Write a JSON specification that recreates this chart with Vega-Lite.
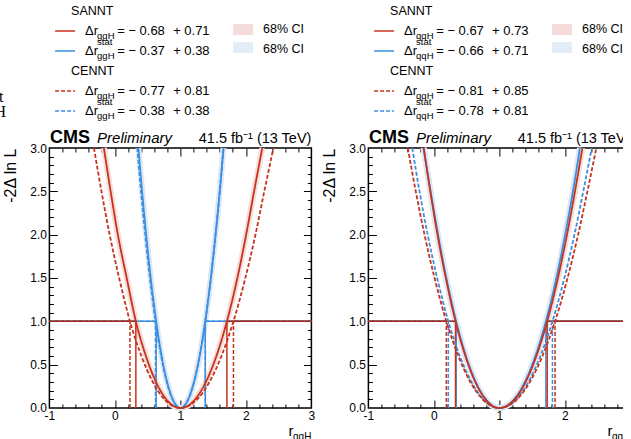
{
  "$schema": "https://vega.github.io/schema/vega-lite/v6.json",
  "padding": {"left": -5.6, "top": 1, "right": -12, "bottom": 0},
  "background": "white",
  "config": {
    "font": "Liberation Sans",
    "view": {"stroke": "black", "strokeWidth": 1.5},
    "axis": {"grid": false, "labelColor": "black", "tickColor": "black", "titleColor": "black", "labelFont": "Liberation Sans", "titleFont": "Liberation Sans"},
    "text": {"color": "black", "font": "Liberation Sans"}
  },
  "datasets": {
    "cG": [
      {"s":"CENNT stat","x":0.342,"y":3},{"s":"CENNT stat","x":0.399,"y":2.5},{"s":"CENNT stat","x":0.463,"y":2},{"s":"CENNT stat","x":0.535,"y":1.5},{"s":"CENNT stat","x":0.62,"y":1},{"s":"CENNT stat","x":0.706,"y":0.6},{"s":"CENNT stat","x":0.792,"y":0.3},{"s":"CENNT stat","x":0.88,"y":0.1},{"s":"CENNT stat","x":1,"y":0},{"s":"CENNT stat","x":1.12,"y":0.1},{"s":"CENNT stat","x":1.208,"y":0.3},{"s":"CENNT stat","x":1.294,"y":0.6},{"s":"CENNT stat","x":1.38,"y":1},{"s":"CENNT stat","x":1.465,"y":1.5},{"s":"CENNT stat","x":1.537,"y":2},{"s":"CENNT stat","x":1.601,"y":2.5},{"s":"CENNT stat","x":1.658,"y":3},
      {"s":"CENNT tot","x":-0.32,"y":3},{"s":"CENNT tot","x":-0.205,"y":2.5},{"s":"CENNT tot","x":-0.08,"y":2},{"s":"CENNT tot","x":0.065,"y":1.5},{"s":"CENNT tot","x":0.23,"y":1},{"s":"CENNT tot","x":0.404,"y":0.6},{"s":"CENNT tot","x":0.578,"y":0.3},{"s":"CENNT tot","x":0.757,"y":0.1},{"s":"CENNT tot","x":1,"y":0},{"s":"CENNT tot","x":1.256,"y":0.1},{"s":"CENNT tot","x":1.444,"y":0.3},{"s":"CENNT tot","x":1.627,"y":0.6},{"s":"CENNT tot","x":1.81,"y":1},{"s":"CENNT tot","x":1.992,"y":1.5},{"s":"CENNT tot","x":2.146,"y":2},{"s":"CENNT tot","x":2.281,"y":2.5},{"s":"CENNT tot","x":2.42,"y":3},
      {"s":"SANNT stat","x":0.359,"y":3},{"s":"SANNT stat","x":0.415,"y":2.5},{"s":"SANNT stat","x":0.477,"y":2},{"s":"SANNT stat","x":0.547,"y":1.5},{"s":"SANNT stat","x":0.63,"y":1},{"s":"SANNT stat","x":0.713,"y":0.6},{"s":"SANNT stat","x":0.797,"y":0.3},{"s":"SANNT stat","x":0.883,"y":0.1},{"s":"SANNT stat","x":1,"y":0},{"s":"SANNT stat","x":1.12,"y":0.1},{"s":"SANNT stat","x":1.208,"y":0.3},{"s":"SANNT stat","x":1.294,"y":0.6},{"s":"SANNT stat","x":1.38,"y":1},{"s":"SANNT stat","x":1.465,"y":1.5},{"s":"SANNT stat","x":1.537,"y":2},{"s":"SANNT stat","x":1.601,"y":2.5},{"s":"SANNT stat","x":1.658,"y":3},
      {"s":"SANNT tot","x":-0.168,"y":3},{"s":"SANNT tot","x":-0.065,"y":2.5},{"s":"SANNT tot","x":0.045,"y":2},{"s":"SANNT tot","x":0.18,"y":1.5},{"s":"SANNT tot","x":0.32,"y":1},{"s":"SANNT tot","x":0.473,"y":0.6},{"s":"SANNT tot","x":0.628,"y":0.3},{"s":"SANNT tot","x":0.785,"y":0.1},{"s":"SANNT tot","x":1,"y":0},{"s":"SANNT tot","x":1.225,"y":0.1},{"s":"SANNT tot","x":1.389,"y":0.3},{"s":"SANNT tot","x":1.55,"y":0.6},{"s":"SANNT tot","x":1.71,"y":1},{"s":"SANNT tot","x":1.87,"y":1.5},{"s":"SANNT tot","x":2.004,"y":2},{"s":"SANNT tot","x":2.125,"y":2.5},{"s":"SANNT tot","x":2.25,"y":3}
    ],
    "cQ": [
      {"s":"CENNT stat","x":-0.33,"y":3},{"s":"CENNT stat","x":-0.22,"y":2.5},{"s":"CENNT stat","x":-0.095,"y":2},{"s":"CENNT stat","x":0.05,"y":1.5},{"s":"CENNT stat","x":0.22,"y":1},{"s":"CENNT stat","x":0.396,"y":0.6},{"s":"CENNT stat","x":0.573,"y":0.3},{"s":"CENNT stat","x":0.753,"y":0.1},{"s":"CENNT stat","x":1,"y":0},{"s":"CENNT stat","x":1.256,"y":0.1},{"s":"CENNT stat","x":1.444,"y":0.3},{"s":"CENNT stat","x":1.627,"y":0.6},{"s":"CENNT stat","x":1.81,"y":1},{"s":"CENNT stat","x":1.992,"y":1.5},{"s":"CENNT stat","x":2.146,"y":2},{"s":"CENNT stat","x":2.281,"y":2.5},{"s":"CENNT stat","x":2.41,"y":3},
      {"s":"CENNT tot","x":-0.398,"y":3},{"s":"CENNT tot","x":-0.277,"y":2.5},{"s":"CENNT tot","x":-0.143,"y":2},{"s":"CENNT tot","x":0.01,"y":1.5},{"s":"CENNT tot","x":0.19,"y":1},{"s":"CENNT tot","x":0.373,"y":0.6},{"s":"CENNT tot","x":0.556,"y":0.3},{"s":"CENNT tot","x":0.744,"y":0.1},{"s":"CENNT tot","x":1,"y":0},{"s":"CENNT tot","x":1.269,"y":0.1},{"s":"CENNT tot","x":1.466,"y":0.3},{"s":"CENNT tot","x":1.658,"y":0.6},{"s":"CENNT tot","x":1.85,"y":1},{"s":"CENNT tot","x":2.041,"y":1.5},{"s":"CENNT tot","x":2.202,"y":2},{"s":"CENNT tot","x":2.344,"y":2.5},{"s":"CENNT tot","x":2.48,"y":3},
      {"s":"SANNT stat","x":-0.16,"y":3},{"s":"SANNT stat","x":-0.05,"y":2.5},{"s":"SANNT stat","x":0.063,"y":2},{"s":"SANNT stat","x":0.19,"y":1.5},{"s":"SANNT stat","x":0.34,"y":1},{"s":"SANNT stat","x":0.489,"y":0.6},{"s":"SANNT stat","x":0.639,"y":0.3},{"s":"SANNT stat","x":0.791,"y":0.1},{"s":"SANNT stat","x":1,"y":0},{"s":"SANNT stat","x":1.225,"y":0.1},{"s":"SANNT stat","x":1.389,"y":0.3},{"s":"SANNT stat","x":1.55,"y":0.6},{"s":"SANNT stat","x":1.71,"y":1},{"s":"SANNT stat","x":1.87,"y":1.5},{"s":"SANNT stat","x":2.004,"y":2},{"s":"SANNT stat","x":2.123,"y":2.5},{"s":"SANNT stat","x":2.23,"y":3},
      {"s":"SANNT tot","x":-0.155,"y":3},{"s":"SANNT tot","x":-0.055,"y":2.5},{"s":"SANNT tot","x":0.055,"y":2},{"s":"SANNT tot","x":0.182,"y":1.5},{"s":"SANNT tot","x":0.33,"y":1},{"s":"SANNT tot","x":0.481,"y":0.6},{"s":"SANNT tot","x":0.633,"y":0.3},{"s":"SANNT tot","x":0.788,"y":0.1},{"s":"SANNT tot","x":1,"y":0},{"s":"SANNT tot","x":1.231,"y":0.1},{"s":"SANNT tot","x":1.4,"y":0.3},{"s":"SANNT tot","x":1.565,"y":0.6},{"s":"SANNT tot","x":1.73,"y":1},{"s":"SANNT tot","x":1.894,"y":1.5},{"s":"SANNT tot","x":2.032,"y":2},{"s":"SANNT tot","x":2.154,"y":2.5},{"s":"SANNT tot","x":2.268,"y":3}
    ],
    "iG": [
      {"s":"SANNT stat","lo":0.63,"hi":1.38},{"s":"CENNT stat","lo":0.62,"hi":1.38},
      {"s":"CENNT tot","lo":0.23,"hi":1.81},{"s":"SANNT tot","lo":0.32,"hi":1.71}
    ],
    "iQ": [
      {"s":"SANNT stat","lo":0.34,"hi":1.71},{"s":"CENNT stat","lo":0.22,"hi":1.81},
      {"s":"CENNT tot","lo":0.19,"hi":1.85},{"s":"SANNT tot","lo":0.33,"hi":1.73}
    ],
    "lG": [
      {"s":"SANNT","kind":"head"},
      {"s":"SANNT tot","kind":"item","sub":"ggH","sup":"","lo":"= − 0.68","hi":"+ 0.71","ci":"68% CI"},
      {"s":"SANNT stat","kind":"item","sub":"ggH","sup":"stat","lo":"= − 0.37","hi":"+ 0.38","ci":"68% CI"},
      {"s":"CENNT","kind":"head"},
      {"s":"CENNT tot","kind":"item","sub":"ggH","sup":"","lo":"= − 0.77","hi":"+ 0.81"},
      {"s":"CENNT stat","kind":"item","sub":"ggH","sup":"stat","lo":"= − 0.38","hi":"+ 0.38"},
      {"s":"CENNT tot","kind":"frag","t":"t"},
      {"s":"CENNT stat","kind":"frag","t":"H"}
    ],
    "lQ": [
      {"s":"SANNT","kind":"head"},
      {"s":"SANNT tot","kind":"item","sub":"qqH","sup":"","lo":"= − 0.67","hi":"+ 0.73","ci":"68% CI"},
      {"s":"SANNT stat","kind":"item","sub":"qqH","sup":"stat","lo":"= − 0.66","hi":"+ 0.71","ci":"68% CI"},
      {"s":"CENNT","kind":"head"},
      {"s":"CENNT tot","kind":"item","sub":"qqH","sup":"","lo":"= − 0.81","hi":"+ 0.85"},
      {"s":"CENNT stat","kind":"item","sub":"qqH","sup":"stat","lo":"= − 0.78","hi":"+ 0.81"}
    ]
  },
  "hconcat": [
    {
      "vconcat": [
        {
          "width": 262, "height": 120,
          "view": {"stroke": null},
          "data": {"name": "lG"},
          "layer": [
            {"transform": [{"filter": "datum.kind == 'head'"}], "mark": {"type": "text", "align": "left", "baseline": "middle", "fontSize": 12.5},
             "encoding": {"x": {"datum": -0.669, "type": "quantitative", "scale": {"domain": [-1, 3], "nice": false, "zero": false}, "axis": null},
               "y": {"field": "s", "type": "nominal", "scale": {"type": "point", "domain": ["SANNT","SANNT tot","SANNT stat","CENNT","CENNT tot","CENNT stat"], "padding": 0.5}, "axis": null},
               "text": {"field": "s"}}},
            {"transform": [{"filter": "datum.kind == 'item'"}], "mark": {"type": "rule", "strokeWidth": 1.5},
             "encoding": {"x": {"datum": -0.913, "type": "quantitative", "axis": null}, "x2": {"datum": -0.608},
              "y": {"field": "s", "type": "nominal", "axis": null},
              "color": {"field": "s", "type": "nominal", "scale": {"domain": ["SANNT tot","SANNT stat","CENNT tot","CENNT stat"], "range": ["#c8321c","#3c8ee0","#c8321c","#3c8ee0"]}, "legend": null},
              "strokeDash": {"field": "s", "type": "nominal", "scale": {"domain": ["SANNT tot","SANNT stat","CENNT tot","CENNT stat"], "range": [[1,0],[1,0],[4,2],[4,2]]}, "legend": null}}},
            {"transform": [{"filter": "datum.kind == 'item'"}], "mark": {"type": "text", "align": "left", "baseline": "middle", "fontSize": 13},
             "encoding": {"x": {"datum": -0.455, "type": "quantitative", "axis": null}, "y": {"field": "s", "type": "nominal", "axis": null}, "text": {"value": "Δr"}}},
            {"transform": [{"filter": "datum.kind == 'item'"}], "mark": {"type": "text", "align": "left", "baseline": "middle", "fontSize": 9.5, "dy": 5},
             "encoding": {"x": {"datum": -0.272, "type": "quantitative", "axis": null}, "y": {"field": "s", "type": "nominal", "axis": null}, "text": {"field": "sub"}}},
            {"transform": [{"filter": "datum.kind == 'item' && datum.sup != ''"}], "mark": {"type": "text", "align": "left", "baseline": "middle", "fontSize": 9.5, "dy": -9},
             "encoding": {"x": {"datum": -0.272, "type": "quantitative", "axis": null}, "y": {"field": "s", "type": "nominal", "axis": null}, "text": {"field": "sup"}}},
            {"transform": [{"filter": "datum.kind == 'item'"}], "mark": {"type": "text", "align": "left", "baseline": "middle", "fontSize": 13},
             "encoding": {"x": {"datum": 0.035, "type": "quantitative", "axis": null}, "y": {"field": "s", "type": "nominal", "axis": null}, "text": {"field": "lo"}}},
            {"transform": [{"filter": "datum.kind == 'item'"}], "mark": {"type": "text", "align": "left", "baseline": "middle", "fontSize": 13},
             "encoding": {"x": {"datum": 0.889, "type": "quantitative", "axis": null}, "y": {"field": "s", "type": "nominal", "axis": null}, "text": {"field": "hi"}}},
            {"transform": [{"filter": "datum.kind == 'item' && datum.s == 'SANNT tot'"}], "mark": {"type": "rule", "strokeWidth": 11, "strokeCap": "butt", "color": "#f3dcdb", "yOffset": -1.5},
             "encoding": {"x": {"datum": 1.805, "type": "quantitative", "axis": null}, "x2": {"datum": 2.11}, "y": {"field": "s", "type": "nominal", "axis": null}}},
            {"transform": [{"filter": "datum.kind == 'item' && datum.s == 'SANNT stat'"}], "mark": {"type": "rule", "strokeWidth": 11, "strokeCap": "butt", "color": "#e3edf8", "yOffset": -3.5},
             "encoding": {"x": {"datum": 1.805, "type": "quantitative", "axis": null}, "x2": {"datum": 2.11}, "y": {"field": "s", "type": "nominal", "axis": null}}},
            {"transform": [{"filter": "datum.kind == 'item' && isValid(datum.ci)"}], "mark": {"type": "text", "align": "left", "baseline": "middle", "fontSize": 12.5, "dy": -2.5},
             "encoding": {"x": {"datum": 2.263, "type": "quantitative", "axis": null}, "y": {"field": "s", "type": "nominal", "axis": null}, "text": {"field": "ci"}}},
            {"transform": [{"filter": "datum.kind == 'frag' && datum.t == 't'"}], "mark": {"type": "text", "align": "right", "baseline": "middle", "fontSize": 16, "font": "Liberation Serif", "dy": 6},
             "encoding": {"x": {"datum": -1.701, "type": "quantitative", "axis": null}, "y": {"field": "s", "type": "nominal", "axis": null}, "text": {"field": "t"}}},
            {"transform": [{"filter": "datum.kind == 'frag' && datum.t == 'H'"}], "mark": {"type": "text", "align": "right", "baseline": "middle", "fontSize": 16, "font": "Liberation Serif", "dy": 1},
             "encoding": {"x": {"datum": -1.661, "type": "quantitative", "axis": null}, "y": {"field": "s", "type": "nominal", "axis": null}, "text": {"field": "t"}}}
          ]
        },
        {
          "width": 262, "height": 260,
          "resolve": {"axis": {"x": "independent", "y": "independent"}},
          "layer": [
            {"data": {"name": "cG"}, "transform": [{"filter": "datum.s == 'SANNT tot'"}],
             "mark": {"type": "line", "interpolate": "monotone", "strokeWidth": 6, "color": "#f6dedb"},
             "encoding": {
               "x": {"field": "x", "type": "quantitative", "scale": {"domain": [-1, 3], "nice": false, "zero": false},
                     "axis": {"orient": "bottom", "values": [-1,0,1,2,3], "labelExpr": "'' + datum.value", "ticks": false, "domain": false, "labelFontSize": 12, "labelPadding": 3, "labelFlush": false, "labelOverlap": false, "title": null}},
               "y": {"field": "y", "type": "quantitative", "scale": {"domain": [0, 3], "nice": false, "zero": false},
                     "axis": {"orient": "left", "values": [0,0.5,1,1.5,2,2.5,3], "format": ".1f", "ticks": false, "domain": false, "labelFontSize": 12, "labelPadding": 3, "labelFlush": false, "labelOverlap": false, "title": "-2Δ ln L", "titleFontSize": 16, "titleFontWeight": "normal", "titleAnchor": "end", "titlePadding": 11}}}},
            {"data": {"name": "cG"}, "transform": [{"filter": "datum.s == 'SANNT stat'"}],
             "mark": {"type": "line", "interpolate": "monotone", "strokeWidth": 6, "color": "#dce8f6"},
             "encoding": {
               "x": {"field": "x", "type": "quantitative", "axis": {"orient": "bottom", "values": [0,1,2], "labels": false, "domain": false, "tickSize": -8, "title": null}},
               "y": {"field": "y", "type": "quantitative", "axis": {"orient": "left", "values": [0.5,1,1.5,2,2.5], "labels": false, "domain": false, "tickSize": -8, "title": null}}}},
            {"data": {"name": "cG"},
             "mark": {"type": "point", "opacity": 0},
             "encoding": {
               "x": {"field": "x", "type": "quantitative", "axis": {"orient": "bottom", "values": [-0.8,-0.6,-0.4,-0.2,0.2,0.4,0.6,0.8,1.2,1.4,1.6,1.8,2.2,2.4,2.6,2.8], "labels": false, "domain": false, "tickSize": -4, "title": null}},
               "y": {"field": "y", "type": "quantitative", "axis": {"orient": "left", "values": [0.1,0.2,0.3,0.4,0.6,0.7,0.8,0.9,1.1,1.2,1.3,1.4,1.6,1.7,1.8,1.9,2.1,2.2,2.3,2.4,2.6,2.7,2.8,2.9], "labels": false, "domain": false, "tickSize": -4, "title": null}}}},
            {"data": {"name": "cG"},
             "mark": {"type": "point", "opacity": 0},
             "encoding": {
               "x": {"field": "x", "type": "quantitative", "axis": {"orient": "top", "values": [0,1,2], "labels": false, "domain": false, "tickSize": -8, "title": null}},
               "y": {"field": "y", "type": "quantitative", "axis": {"orient": "right", "values": [0.5,1,1.5,2,2.5], "labels": false, "domain": false, "tickSize": -8, "title": null}}}},
            {"data": {"name": "cG"},
             "mark": {"type": "point", "opacity": 0},
             "encoding": {
               "x": {"field": "x", "type": "quantitative", "axis": {"orient": "top", "values": [-0.8,-0.6,-0.4,-0.2,0.2,0.4,0.6,0.8,1.2,1.4,1.6,1.8,2.2,2.4,2.6,2.8], "labels": false, "domain": false, "tickSize": -4, "title": null}},
               "y": {"field": "y", "type": "quantitative", "axis": {"orient": "right", "values": [0.1,0.2,0.3,0.4,0.6,0.7,0.8,0.9,1.1,1.2,1.3,1.4,1.6,1.7,1.8,1.9,2.1,2.2,2.3,2.4,2.6,2.7,2.8,2.9], "labels": false, "domain": false, "tickSize": -4, "title": null}}}},
            {"data": {"name": "iG"},
             "mark": {"type": "rule", "strokeWidth": 1.5},
             "encoding": {
               "x": {"field": "lo", "type": "quantitative", "axis": null},
               "x2": {"datum": -1},
               "y": {"datum": 1, "type": "quantitative", "axis": null},
               "stroke": {"field": "s", "type": "nominal", "scale": {"domain": ["SANNT tot","SANNT stat","CENNT tot","CENNT stat"], "range": ["#a52a1c","#3c8ee0","#a52a1c","#3c8ee0"]}, "legend": null},
               "strokeDash": {"field": "s", "type": "nominal", "legend": null}}},
            {"data": {"name": "iG"},
             "mark": {"type": "rule", "strokeWidth": 1.5},
             "encoding": {
               "x": {"field": "hi", "type": "quantitative", "axis": null},
               "x2": {"datum": 3},
               "y": {"datum": 1, "type": "quantitative", "axis": null},
               "stroke": {"field": "s", "type": "nominal", "legend": null},
               "strokeDash": {"field": "s", "type": "nominal", "legend": null}}},
            {"data": {"name": "iG"},
             "mark": {"type": "rule", "strokeWidth": 1.5},
             "encoding": {
               "x": {"field": "lo", "type": "quantitative", "axis": null},
               "y": {"datum": 0, "type": "quantitative", "axis": null},
               "y2": {"datum": 1},
               "color": {"field": "s", "type": "nominal", "legend": null},
               "strokeDash": {"field": "s", "type": "nominal", "legend": null}}},
            {"data": {"name": "iG"},
             "mark": {"type": "rule", "strokeWidth": 1.5},
             "encoding": {
               "x": {"field": "hi", "type": "quantitative", "axis": null},
               "y": {"datum": 0, "type": "quantitative", "axis": null},
               "y2": {"datum": 1},
               "color": {"field": "s", "type": "nominal", "legend": null},
               "strokeDash": {"field": "s", "type": "nominal", "legend": null}}},
            {"data": {"name": "cG"},
             "mark": {"type": "line", "interpolate": "monotone", "strokeWidth": 1.8},
             "encoding": {
               "x": {"field": "x", "type": "quantitative", "axis": null},
               "y": {"field": "y", "type": "quantitative", "axis": null},
               "color": {"field": "s", "type": "nominal", "legend": null},
               "strokeDash": {"field": "s", "type": "nominal", "legend": null}}},
            {"data": {"values": [{"t": "CMS"}]},
             "mark": {"type": "text", "align": "left", "baseline": "alphabetic", "fontSize": 18, "fontWeight": "bold"},
             "encoding": {"x": {"datum": -0.99, "type": "quantitative", "axis": null}, "y": {"datum": 3.058, "type": "quantitative", "axis": null}, "text": {"field": "t"}}},
            {"data": {"values": [{"t": "Preliminary"}]},
             "mark": {"type": "text", "align": "left", "baseline": "alphabetic", "fontSize": 15, "fontStyle": "italic"},
             "encoding": {"x": {"datum": -0.272, "type": "quantitative", "axis": null}, "y": {"datum": 3.058, "type": "quantitative", "axis": null}, "text": {"field": "t"}}},
            {"data": {"values": [{"t": "41.5 fb⁻¹ (13 TeV)"}]},
             "mark": {"type": "text", "align": "right", "baseline": "alphabetic", "fontSize": 14.5},
             "encoding": {"x": {"datum": 3, "type": "quantitative", "axis": null}, "y": {"datum": 3.058, "type": "quantitative", "axis": null}, "text": {"field": "t"}}},
            {"data": {"values": [{"t": "r"}]},
             "mark": {"type": "text", "align": "right", "baseline": "alphabetic", "fontSize": 15, "dx": -18},
             "encoding": {"x": {"datum": 3, "type": "quantitative", "axis": null}, "y": {"datum": -0.323, "type": "quantitative", "axis": null}, "text": {"field": "t"}}},
            {"data": {"values": [{"t": "ggH"}]},
             "mark": {"type": "text", "align": "right", "baseline": "alphabetic", "fontSize": 10},
             "encoding": {"x": {"datum": 3, "type": "quantitative", "axis": null}, "y": {"datum": -0.369, "type": "quantitative", "axis": null}, "text": {"field": "t"}}}
          ]
        }
      ],
      "spacing": 27,
      "bounds": "flush"
    },
    {
      "vconcat": [
        {
          "width": 262, "height": 120,
          "view": {"stroke": null},
          "data": {"name": "lQ"},
          "layer": [
            {"transform": [{"filter": "datum.kind == 'head'"}], "mark": {"type": "text", "align": "left", "baseline": "middle", "fontSize": 12.5},
             "encoding": {"x": {"datum": -0.669, "type": "quantitative", "scale": {"domain": [-1, 3], "nice": false, "zero": false}, "axis": null},
               "y": {"field": "s", "type": "nominal", "scale": {"type": "point", "domain": ["SANNT","SANNT tot","SANNT stat","CENNT","CENNT tot","CENNT stat"], "padding": 0.5}, "axis": null},
               "text": {"field": "s"}}},
            {"transform": [{"filter": "datum.kind == 'item'"}], "mark": {"type": "rule", "strokeWidth": 1.5},
             "encoding": {"x": {"datum": -0.913, "type": "quantitative", "axis": null}, "x2": {"datum": -0.608},
              "y": {"field": "s", "type": "nominal", "axis": null},
              "color": {"field": "s", "type": "nominal", "scale": {"domain": ["SANNT tot","SANNT stat","CENNT tot","CENNT stat"], "range": ["#c8321c","#3c8ee0","#c8321c","#3c8ee0"]}, "legend": null},
              "strokeDash": {"field": "s", "type": "nominal", "scale": {"domain": ["SANNT tot","SANNT stat","CENNT tot","CENNT stat"], "range": [[1,0],[1,0],[4,2],[4,2]]}, "legend": null}}},
            {"transform": [{"filter": "datum.kind == 'item'"}], "mark": {"type": "text", "align": "left", "baseline": "middle", "fontSize": 13},
             "encoding": {"x": {"datum": -0.455, "type": "quantitative", "axis": null}, "y": {"field": "s", "type": "nominal", "axis": null}, "text": {"value": "Δr"}}},
            {"transform": [{"filter": "datum.kind == 'item'"}], "mark": {"type": "text", "align": "left", "baseline": "middle", "fontSize": 9.5, "dy": 5},
             "encoding": {"x": {"datum": -0.272, "type": "quantitative", "axis": null}, "y": {"field": "s", "type": "nominal", "axis": null}, "text": {"field": "sub"}}},
            {"transform": [{"filter": "datum.kind == 'item' && datum.sup != ''"}], "mark": {"type": "text", "align": "left", "baseline": "middle", "fontSize": 9.5, "dy": -9},
             "encoding": {"x": {"datum": -0.272, "type": "quantitative", "axis": null}, "y": {"field": "s", "type": "nominal", "axis": null}, "text": {"field": "sup"}}},
            {"transform": [{"filter": "datum.kind == 'item'"}], "mark": {"type": "text", "align": "left", "baseline": "middle", "fontSize": 13},
             "encoding": {"x": {"datum": 0.035, "type": "quantitative", "axis": null}, "y": {"field": "s", "type": "nominal", "axis": null}, "text": {"field": "lo"}}},
            {"transform": [{"filter": "datum.kind == 'item'"}], "mark": {"type": "text", "align": "left", "baseline": "middle", "fontSize": 13},
             "encoding": {"x": {"datum": 0.889, "type": "quantitative", "axis": null}, "y": {"field": "s", "type": "nominal", "axis": null}, "text": {"field": "hi"}}},
            {"transform": [{"filter": "datum.kind == 'item' && datum.s == 'SANNT tot'"}], "mark": {"type": "rule", "strokeWidth": 11, "strokeCap": "butt", "color": "#f3dcdb", "yOffset": -1.5},
             "encoding": {"x": {"datum": 1.805, "type": "quantitative", "axis": null}, "x2": {"datum": 2.11}, "y": {"field": "s", "type": "nominal", "axis": null}}},
            {"transform": [{"filter": "datum.kind == 'item' && datum.s == 'SANNT stat'"}], "mark": {"type": "rule", "strokeWidth": 11, "strokeCap": "butt", "color": "#e3edf8", "yOffset": -3.5},
             "encoding": {"x": {"datum": 1.805, "type": "quantitative", "axis": null}, "x2": {"datum": 2.11}, "y": {"field": "s", "type": "nominal", "axis": null}}},
            {"transform": [{"filter": "datum.kind == 'item' && isValid(datum.ci)"}], "mark": {"type": "text", "align": "left", "baseline": "middle", "fontSize": 12.5, "dy": -2.5},
             "encoding": {"x": {"datum": 2.263, "type": "quantitative", "axis": null}, "y": {"field": "s", "type": "nominal", "axis": null}, "text": {"field": "ci"}}}
          ]
        },
        {
          "width": 262, "height": 260,
          "resolve": {"axis": {"x": "independent", "y": "independent"}},
          "layer": [
            {"data": {"name": "cQ"}, "transform": [{"filter": "datum.s == 'SANNT tot'"}],
             "mark": {"type": "line", "interpolate": "monotone", "strokeWidth": 6, "color": "#f6dedb"},
             "encoding": {
               "x": {"field": "x", "type": "quantitative", "scale": {"domain": [-1, 3], "nice": false, "zero": false},
                     "axis": {"orient": "bottom", "values": [-1,0,1,2,3], "labelExpr": "'' + datum.value", "ticks": false, "domain": false, "labelFontSize": 12, "labelPadding": 3, "labelFlush": false, "labelOverlap": false, "title": null}},
               "y": {"field": "y", "type": "quantitative", "scale": {"domain": [0, 3], "nice": false, "zero": false},
                     "axis": {"orient": "left", "values": [0,0.5,1,1.5,2,2.5,3], "format": ".1f", "ticks": false, "domain": false, "labelFontSize": 12, "labelPadding": 3, "labelFlush": false, "labelOverlap": false, "title": "-2Δ ln L", "titleFontSize": 16, "titleFontWeight": "normal", "titleAnchor": "end", "titlePadding": 11}}}},
            {"data": {"name": "cQ"}, "transform": [{"filter": "datum.s == 'SANNT stat'"}],
             "mark": {"type": "line", "interpolate": "monotone", "strokeWidth": 6, "color": "#dce8f6"},
             "encoding": {
               "x": {"field": "x", "type": "quantitative", "axis": {"orient": "bottom", "values": [0,1,2], "labels": false, "domain": false, "tickSize": -8, "title": null}},
               "y": {"field": "y", "type": "quantitative", "axis": {"orient": "left", "values": [0.5,1,1.5,2,2.5], "labels": false, "domain": false, "tickSize": -8, "title": null}}}},
            {"data": {"name": "cQ"},
             "mark": {"type": "point", "opacity": 0},
             "encoding": {
               "x": {"field": "x", "type": "quantitative", "axis": {"orient": "bottom", "values": [-0.8,-0.6,-0.4,-0.2,0.2,0.4,0.6,0.8,1.2,1.4,1.6,1.8,2.2,2.4,2.6,2.8], "labels": false, "domain": false, "tickSize": -4, "title": null}},
               "y": {"field": "y", "type": "quantitative", "axis": {"orient": "left", "values": [0.1,0.2,0.3,0.4,0.6,0.7,0.8,0.9,1.1,1.2,1.3,1.4,1.6,1.7,1.8,1.9,2.1,2.2,2.3,2.4,2.6,2.7,2.8,2.9], "labels": false, "domain": false, "tickSize": -4, "title": null}}}},
            {"data": {"name": "cQ"},
             "mark": {"type": "point", "opacity": 0},
             "encoding": {
               "x": {"field": "x", "type": "quantitative", "axis": {"orient": "top", "values": [0,1,2], "labels": false, "domain": false, "tickSize": -8, "title": null}},
               "y": {"field": "y", "type": "quantitative", "axis": {"orient": "right", "values": [0.5,1,1.5,2,2.5], "labels": false, "domain": false, "tickSize": -8, "title": null}}}},
            {"data": {"name": "cQ"},
             "mark": {"type": "point", "opacity": 0},
             "encoding": {
               "x": {"field": "x", "type": "quantitative", "axis": {"orient": "top", "values": [-0.8,-0.6,-0.4,-0.2,0.2,0.4,0.6,0.8,1.2,1.4,1.6,1.8,2.2,2.4,2.6,2.8], "labels": false, "domain": false, "tickSize": -4, "title": null}},
               "y": {"field": "y", "type": "quantitative", "axis": {"orient": "right", "values": [0.1,0.2,0.3,0.4,0.6,0.7,0.8,0.9,1.1,1.2,1.3,1.4,1.6,1.7,1.8,1.9,2.1,2.2,2.3,2.4,2.6,2.7,2.8,2.9], "labels": false, "domain": false, "tickSize": -4, "title": null}}}},
            {"data": {"name": "iQ"},
             "mark": {"type": "rule", "strokeWidth": 1.5},
             "encoding": {
               "x": {"field": "lo", "type": "quantitative", "axis": null},
               "x2": {"datum": -1},
               "y": {"datum": 1, "type": "quantitative", "axis": null},
               "stroke": {"field": "s", "type": "nominal", "scale": {"domain": ["SANNT tot","SANNT stat","CENNT tot","CENNT stat"], "range": ["#a52a1c","#3c8ee0","#a52a1c","#3c8ee0"]}, "legend": null},
               "strokeDash": {"field": "s", "type": "nominal", "legend": null}}},
            {"data": {"name": "iQ"},
             "mark": {"type": "rule", "strokeWidth": 1.5},
             "encoding": {
               "x": {"field": "hi", "type": "quantitative", "axis": null},
               "x2": {"datum": 3},
               "y": {"datum": 1, "type": "quantitative", "axis": null},
               "stroke": {"field": "s", "type": "nominal", "legend": null},
               "strokeDash": {"field": "s", "type": "nominal", "legend": null}}},
            {"data": {"name": "iQ"},
             "mark": {"type": "rule", "strokeWidth": 1.5},
             "encoding": {
               "x": {"field": "lo", "type": "quantitative", "axis": null},
               "y": {"datum": 0, "type": "quantitative", "axis": null},
               "y2": {"datum": 1},
               "color": {"field": "s", "type": "nominal", "legend": null},
               "strokeDash": {"field": "s", "type": "nominal", "legend": null}}},
            {"data": {"name": "iQ"},
             "mark": {"type": "rule", "strokeWidth": 1.5},
             "encoding": {
               "x": {"field": "hi", "type": "quantitative", "axis": null},
               "y": {"datum": 0, "type": "quantitative", "axis": null},
               "y2": {"datum": 1},
               "color": {"field": "s", "type": "nominal", "legend": null},
               "strokeDash": {"field": "s", "type": "nominal", "legend": null}}},
            {"data": {"name": "cQ"},
             "mark": {"type": "line", "interpolate": "monotone", "strokeWidth": 1.8},
             "encoding": {
               "x": {"field": "x", "type": "quantitative", "axis": null},
               "y": {"field": "y", "type": "quantitative", "axis": null},
               "color": {"field": "s", "type": "nominal", "legend": null},
               "strokeDash": {"field": "s", "type": "nominal", "legend": null}}},
            {"data": {"values": [{"t": "CMS"}]},
             "mark": {"type": "text", "align": "left", "baseline": "alphabetic", "fontSize": 18, "fontWeight": "bold"},
             "encoding": {"x": {"datum": -0.99, "type": "quantitative", "axis": null}, "y": {"datum": 3.058, "type": "quantitative", "axis": null}, "text": {"field": "t"}}},
            {"data": {"values": [{"t": "Preliminary"}]},
             "mark": {"type": "text", "align": "left", "baseline": "alphabetic", "fontSize": 15, "fontStyle": "italic"},
             "encoding": {"x": {"datum": -0.272, "type": "quantitative", "axis": null}, "y": {"datum": 3.058, "type": "quantitative", "axis": null}, "text": {"field": "t"}}},
            {"data": {"values": [{"t": "41.5 fb⁻¹ (13 TeV)"}]},
             "mark": {"type": "text", "align": "right", "baseline": "alphabetic", "fontSize": 14.5},
             "encoding": {"x": {"datum": 3, "type": "quantitative", "axis": null}, "y": {"datum": 3.058, "type": "quantitative", "axis": null}, "text": {"field": "t"}}},
            {"data": {"values": [{"t": "r"}]},
             "mark": {"type": "text", "align": "right", "baseline": "alphabetic", "fontSize": 15, "dx": -18},
             "encoding": {"x": {"datum": 3, "type": "quantitative", "axis": null}, "y": {"datum": -0.323, "type": "quantitative", "axis": null}, "text": {"field": "t"}}},
            {"data": {"values": [{"t": "qqH"}]},
             "mark": {"type": "text", "align": "right", "baseline": "alphabetic", "fontSize": 10},
             "encoding": {"x": {"datum": 3, "type": "quantitative", "axis": null}, "y": {"datum": -0.369, "type": "quantitative", "axis": null}, "text": {"field": "t"}}}
          ]
        }
      ],
      "spacing": 27,
      "bounds": "flush"
    }
  ],
  "spacing": 4,
  "bounds": "full"
}
